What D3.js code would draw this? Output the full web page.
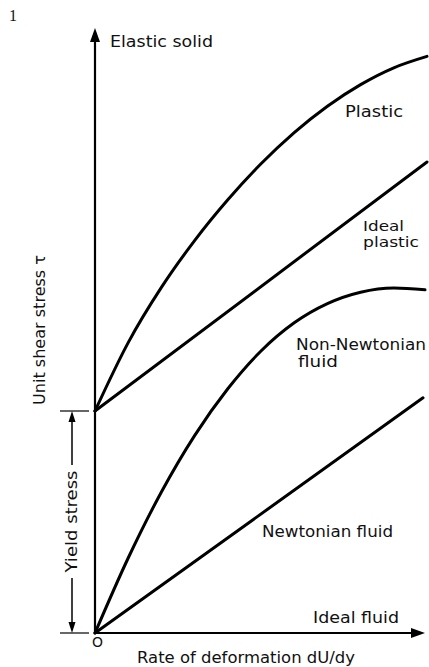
<!DOCTYPE html>
<html>
<head>
<meta charset="utf-8">
<script src="https://cdn.jsdelivr.net/npm/d3@7"></script>
<style>
  html, body { margin: 0; padding: 0; background: #fff; }
  svg { display: block; }
  text { font-family: "DejaVu Sans", sans-serif; fill: #111; }
</style>
</head>
<body>
<div id="chart"></div>
<script>
// ---------- data (schematic; units arbitrary 0..100) ----------
const yieldStress = 37;

const plasticX = [0, 10, 20, 30, 40, 50, 60, 70, 80, 90, 100];
const plasticY = [37, 48.4, 57.6, 65.4, 72.2, 78.2, 83.4, 87.8, 91.4, 94.2, 96.1];

const idealPlasticX = [0, 100];
const idealPlasticY = [37, 78.5];

const nonNewtonianX = [0, 10, 20, 30, 40, 50, 60, 70, 80, 90, 99.4];
const nonNewtonianY = [0, 12.5, 23.5, 32.9, 40.7, 47.0, 51.7, 54.9, 56.8, 57.5, 57.2];

const newtonianX = [0, 98.8];
const newtonianY = [0, 39.2];

const curveNames = ["Plastic", "Ideal plastic", "Non-Newtonian fluid", "Newtonian fluid"];

// ---------- layout ----------
const W = 429, H = 667;
const x = d3.scaleLinear().domain([0, 100]).range([95, 427]);
const y = d3.scaleLinear().domain([0, 100]).range([633, 33]);

const svg = d3.select("#chart").append("svg").attr("width", W).attr("height", H);

// figure number
svg.append("text").attr("x", 9).attr("y", 21)
  .style("font-family", "'Liberation Serif', serif").style("font-size", "16px").text("1");

// axes
const ax = svg.append("g");
ax.append("line").attr("x1", x(0)).attr("y1", y(0)).attr("x2", x(0)).attr("y2", 40)
  .attr("stroke", "#000").attr("stroke-width", 2.2);
ax.append("path").attr("d", `M${x(0)},28 L${x(0)-5},42 L${x(0)+5},42 Z`).attr("fill", "#000");
ax.append("line").attr("x1", x(0)).attr("y1", y(0)).attr("x2", 413).attr("y2", y(0))
  .attr("stroke", "#000").attr("stroke-width", 2.2);
ax.append("path").attr("d", `M425,${y(0)} L411,${y(0)-5} L411,${y(0)+5} Z`).attr("fill", "#000");

// curves
const line = d3.line().x(d => x(d[0])).y(d => y(d[1])).curve(d3.curveMonotoneX);
const zip = (a, b) => a.map((v, i) => [v, b[i]]);
const series = [
  zip(plasticX, plasticY),
  zip(idealPlasticX, idealPlasticY),
  zip(nonNewtonianX, nonNewtonianY),
  zip(newtonianX, newtonianY)
];
svg.append("g").selectAll("path").data(series).join("path")
  .attr("d", line).attr("fill", "none").attr("stroke", "#000")
  .attr("stroke-width", 3).attr("stroke-linecap", "round");

// curve labels
function label(txt, px, py, len, size) {
  svg.append("text").attr("x", px).attr("y", py)
    .attr("textLength", len).attr("lengthAdjust", "spacingAndGlyphs")
    .style("font-size", (size || 15) + "px").text(txt);
}
label("Elastic solid", 110, 47, 103);
label(curveNames[0], 345, 117, 58);
label("Ideal", 363, 231, 41, 14);
label("plastic", 363, 247, 56, 14);
label("Non-Newtonian", 296, 350, 130);
label("fluid", 298, 367, 40);
label(curveNames[3], 262, 537, 131);
label("Ideal fluid", 313, 623, 86);
label("O", 92, 647, 11, 14);
label("Rate of deformation dU/dy", 137, 663, 218);

// y-axis title
svg.append("text").attr("transform", "translate(45,330) rotate(-90)")
  .attr("text-anchor", "middle").attr("textLength", 150).attr("lengthAdjust", "spacingAndGlyphs")
  .style("font-size", "15px").text("Unit shear stress  τ");

// yield stress dimension
const yy = y(yieldStress), y0 = y(0), ax0 = 72;
const g = svg.append("g");
g.append("line").attr("x1", 60).attr("x2", 89).attr("y1", yy).attr("y2", yy).attr("stroke", "#000").attr("stroke-width", 1.2);
g.append("line").attr("x1", 60).attr("x2", 89).attr("y1", y0).attr("y2", y0).attr("stroke", "#000").attr("stroke-width", 1.2);
g.append("line").attr("x1", ax0).attr("x2", ax0).attr("y1", yy + 8).attr("y2", 465).attr("stroke", "#000").attr("stroke-width", 1.5);
g.append("line").attr("x1", ax0).attr("x2", ax0).attr("y1", 578).attr("y2", y0 - 8).attr("stroke", "#000").attr("stroke-width", 1.5);
g.append("path").attr("d", `M${ax0},${yy} L${ax0-3.5},${yy+11} L${ax0+3.5},${yy+11} Z`).attr("fill", "#000");
g.append("path").attr("d", `M${ax0},${y0} L${ax0-3.5},${y0-11} L${ax0+3.5},${y0-11} Z`).attr("fill", "#000");
svg.append("text").attr("transform", `translate(77,${(465+578)/2}) rotate(-90)`)
  .attr("text-anchor", "middle").attr("textLength", 102).attr("lengthAdjust", "spacingAndGlyphs")
  .style("font-size", "15px").text("Yield stress");
</script>
</body>
</html>
